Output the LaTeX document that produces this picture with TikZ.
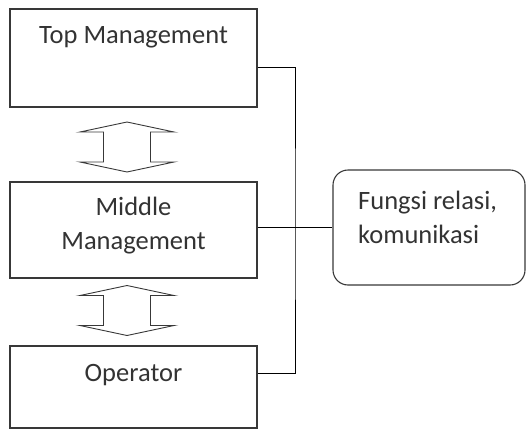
\documentclass[tikz,border=0pt]{standalone}
\usepackage{fontspec}
\setmainfont{Carlito}
\definecolor{boxline}{gray}{0.22}
\definecolor{txtgray}{gray}{0.2}

\begin{document}
\begin{tikzpicture}[x=1pt, y=-1pt]

\useasboundingbox (0,0) rectangle (527,431);

\tikzset{%
    levelbox/.style={draw=boxline, line width=1.1pt, minimum width=247pt, inner sep=0pt},
    roundbox/.style={draw=boxline, line width=1.1pt, rounded corners=15pt,
        minimum width=192pt, minimum height=115pt, inner sep=0pt},
    lbl/.style={text=txtgray, font=\fontsize{26.5}{34}\selectfont, inner sep=0pt},
    wire/.style={black, line width=0.9pt},
    updown/.pic={
        \draw[boxline, line width=0.9pt] (0,-25) -- (47,-15) -- (23.5,-15) -- (23.5,15)
            -- (47,15) -- (0,25) -- (-47,15) -- (-23.5,15) -- (-23.5,-15) -- (-47,-15) -- cycle;
    }
}

% the three levels
\node[levelbox, minimum height=98pt] (top) at (133.5,58) {};
\node[levelbox, minimum height=96pt] (middle) at (133.5,230) {};
\node[levelbox, minimum height=82pt] (oper) at (133.5,387) {};

% base of a two-line node is its last line
\node[lbl, anchor=base] (toptext) at ([yshift=-35pt]top.north) {Top Management};
\node[lbl, anchor=base, align=center] (midtext) at ([yshift=-68pt]middle.north) {Middle\\Management};
\node[lbl, anchor=base] (opertext) at ([yshift=-36pt]oper.north) {Operator};

% arrows between levels
\pic (arrowa) at (127,147) {updown};
\pic (arrowb) at (127,310.5) {updown};

% side box
\node[roundbox] (fungsi) at (429,227.5) {};
\node[lbl, anchor=base west, align=left] (fungsitext) at (358,243) {Fungsi relasi,\\komunikasi};

% connectors
\coordinate (bus) at (295,227.5);
\coordinate (tconn) at ([yshift=-9pt]top.east);
\coordinate (oconn) at ([yshift=14pt]oper.east);
\draw[wire] (tconn) -| (bus) |- (oconn);
\draw[wire] (middle.east |- fungsi.west) -- (fungsi.west);

\end{tikzpicture}
\end{document}
